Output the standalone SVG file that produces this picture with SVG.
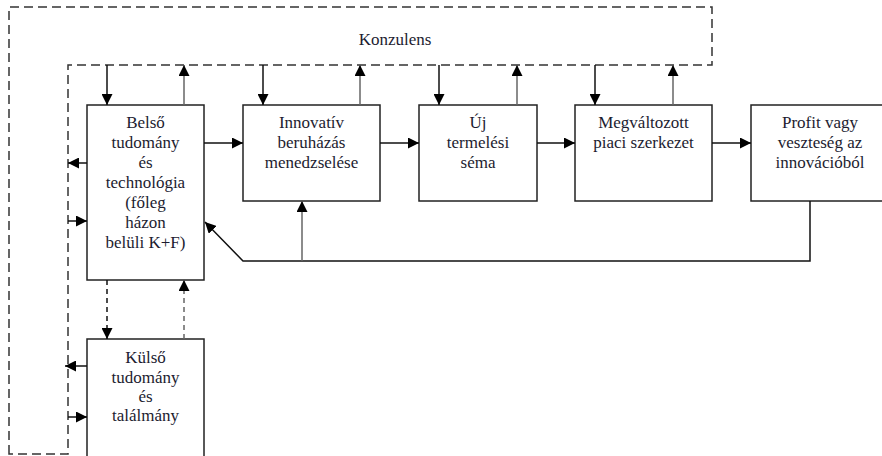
<svg xmlns="http://www.w3.org/2000/svg" width="882" height="456" viewBox="0 0 882 456">
<defs>
<marker id="ah" viewBox="0 0 10 10" refX="10" refY="5" markerWidth="11" markerHeight="11" markerUnits="userSpaceOnUse" orient="auto">
<path d="M0,0 L10,5 L0,10 z" fill="#000"/>
</marker>
</defs>
<style>
.box{fill:#fff;stroke:#222;stroke-width:1.5}
.t{font-family:'Liberation Serif','DejaVu Serif','Times New Roman',serif;font-size:17px;fill:#1c1c30;text-anchor:middle}
.c{fill:none;stroke:#111;stroke-width:1.5;marker-end:url(#ah)}
.g{fill:none;stroke:#666;stroke-width:1.5;marker-end:url(#ah)}
.d{stroke-dasharray:5,4}
.band{fill:none;stroke:#333;stroke-width:1.5;stroke-dasharray:9,5}
</style>
<rect width="882" height="456" fill="#fff"/>
<g id="konzulens">
<path class="band" d="M9,454 V7 H712 V65 H68 V454 Z"/>
<text class="t" x="395" y="45" font-family="Liberation Serif, serif">Konzulens</text>
</g>
<g id="belso" font-family="Liberation Serif, serif">
<rect class="box" x="87" y="105" width="117" height="175"/>
<text class="t" x="145.5" y="128">Belső</text>
<text class="t" x="145.5" y="148">tudomány</text>
<text class="t" x="145.5" y="168">és</text>
<text class="t" x="145.5" y="188">technológia</text>
<text class="t" x="145.5" y="208">(főleg</text>
<text class="t" x="145.5" y="228">házon</text>
<text class="t" x="145.5" y="248">belüli K+F)</text>
</g>
<g id="innovativ">
<rect class="box" x="243" y="105" width="137" height="96"/>
<text class="t" x="311.5" y="128">Innovatív</text>
<text class="t" x="311.5" y="148">beruházás</text>
<text class="t" x="311.5" y="168">menedzselése</text>
</g>
<g id="uj">
<rect class="box" x="419" y="105" width="118" height="96"/>
<text class="t" x="478" y="128">Új</text>
<text class="t" x="478" y="148">termelési</text>
<text class="t" x="478" y="168">séma</text>
</g>
<g id="megvaltozott">
<rect class="box" x="575" y="105" width="137" height="96"/>
<text class="t" x="643.5" y="128">Megváltozott</text>
<text class="t" x="643.5" y="148">piaci szerkezet</text>
</g>
<g id="profit">
<rect class="box" x="751" y="105" width="140" height="96"/>
<text class="t" x="820" y="128">Profit vagy</text>
<text class="t" x="820" y="148">veszteség az</text>
<text class="t" x="820" y="168">innovációból</text>
</g>
<g id="kulso">
<rect class="box" x="87" y="339" width="117" height="130"/>
<text class="t" x="145.5" y="363">Külső</text>
<text class="t" x="145.5" y="383">tudomány</text>
<text class="t" x="145.5" y="402">és</text>
<text class="t" x="145.5" y="421">találmány</text>
</g>
<g id="connectors">
<path class="c" d="M107,65 V105"/>
<path class="g" d="M184,105 V65"/>
<path class="c" d="M263,65 V105"/>
<path class="g" d="M360,105 V65"/>
<path class="c" d="M439,65 V105"/>
<path class="g" d="M517,105 V65"/>
<path class="c" d="M595,65 V105"/>
<path class="g" d="M673,105 V65"/>
<path class="c" d="M204,143 H243"/>
<path class="c" d="M380,143 H419"/>
<path class="c" d="M537,143 H575"/>
<path class="c" d="M712,143 H751"/>
<path class="c" d="M810,201 V261 H243 L205,222"/>
<path class="g" d="M302,261 V201"/>
<path class="c" d="M87,163 H68"/>
<path class="c" d="M68,221 H87"/>
<path class="c" d="M87,366 H65"/>
<path class="c" d="M68,417 H87"/>
<path class="c d" d="M107,280 V339"/>
<path class="g d" d="M184,339 V280"/>
</g>
</svg>
